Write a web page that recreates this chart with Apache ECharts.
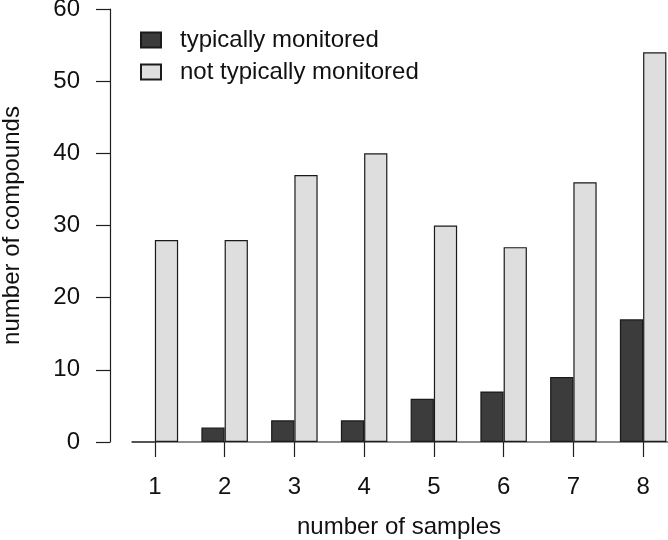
<!DOCTYPE html>
<html>
<head>
<meta charset="utf-8">
<script src="https://cdn.jsdelivr.net/npm/echarts@6/dist/echarts.min.js"></script>
<style>
html,body{margin:0;padding:0;background:#fff;}
#chart{width:668px;height:540px;}
</style>
</head>
<body>
<div id="chart"></div>
<script>
const categories = ['1','2','3','4','5','6','7','8'];
const typicallyMonitored = [0, 2, 3, 3, 6, 7, 9, 17];
const notTypicallyMonitored = [28, 28, 37, 40, 30, 27, 36, 54];
const yTicks = {min: 0, max: 60, interval: 10};
const seriesNames = ['typically monitored', 'not typically monitored'];

const FONT = '"Liberation Sans", Arial, sans-serif';
const FS = 24;
const TXT = '#111111';
const LINE = '#1f1f1f';

const chart = echarts.init(document.getElementById('chart'), null, {renderer: 'canvas'});
const option = {
  backgroundColor: '#ffffff',
  animation: false,
  textStyle: {fontFamily: FONT, color: TXT},
  grid: {left: 120, width: 558, top: 9, height: 433, containLabel: false, outerBoundsMode: 'none'},
  legend: {
    orient: 'vertical', left: 140, top: 28, padding: 0,
    itemWidth: 20, itemHeight: 15, itemGap: 8,
    icon: 'rect',
    textStyle: {fontSize: FS, fontFamily: FONT, color: TXT, padding: [0, 0, 0, 14]},
    data: seriesNames
  },
  xAxis: {
    type: 'category', data: categories,
    name: 'number of samples', nameLocation: 'middle', nameGap: 73,
    nameTextStyle: {fontSize: FS, fontFamily: FONT, color: TXT},
    axisLine: {show: false},
    axisTick: {show: true, alignWithLabel: true, length: 15, lineStyle: {color: LINE, width: 1.2}},
    axisLabel: {fontSize: FS, fontFamily: FONT, color: TXT, margin: 33},
    splitLine: {show: false}
  },
  yAxis: {
    type: 'value', min: yTicks.min, max: yTicks.max, interval: yTicks.interval,
    offset: 10,
    name: 'number of compounds', nameLocation: 'middle', nameGap: 86, nameRotate: 90,
    nameTextStyle: {fontSize: FS, fontFamily: FONT, color: TXT},
    axisLine: {show: true, lineStyle: {color: LINE, width: 1.2}},
    axisTick: {show: true, length: 14, lineStyle: {color: LINE, width: 1.2}},
    axisLabel: {fontSize: FS, fontFamily: FONT, color: TXT, margin: 30},
    splitLine: {show: false}
  },
  series: [
    {
      name: seriesNames[0], type: 'bar', data: typicallyMonitored,
      barGap: '0%', barCategoryGap: '33.33%',
      itemStyle: {color: '#3c3c3c', borderColor: '#1a1a1a', borderWidth: 1.2}
    },
    {
      name: seriesNames[1], type: 'bar', data: notTypicallyMonitored,
      barGap: '0%', barCategoryGap: '33.33%',
      itemStyle: {color: '#dedede', borderColor: '#1a1a1a', borderWidth: 1.2}
    }
  ]
};
chart.setOption(option);

// baseline drawn from the axis scales: starts at left edge of the first bar group
const c0 = chart.convertToPixel({xAxisIndex: 0}, categories[0]);
const c1 = chart.convertToPixel({xAxisIndex: 0}, categories[1]);
const band = c1 - c0;
const y0 = chart.convertToPixel({yAxisIndex: 0}, 0);
chart.setOption({
  graphic: [{
    type: 'line', silent: true, z: 10,
    shape: {x1: c0 - band / 3, y1: y0, x2: 668, y2: y0},
    style: {stroke: LINE, lineWidth: 1.2}
  }]
});
</script>
</body>
</html>
